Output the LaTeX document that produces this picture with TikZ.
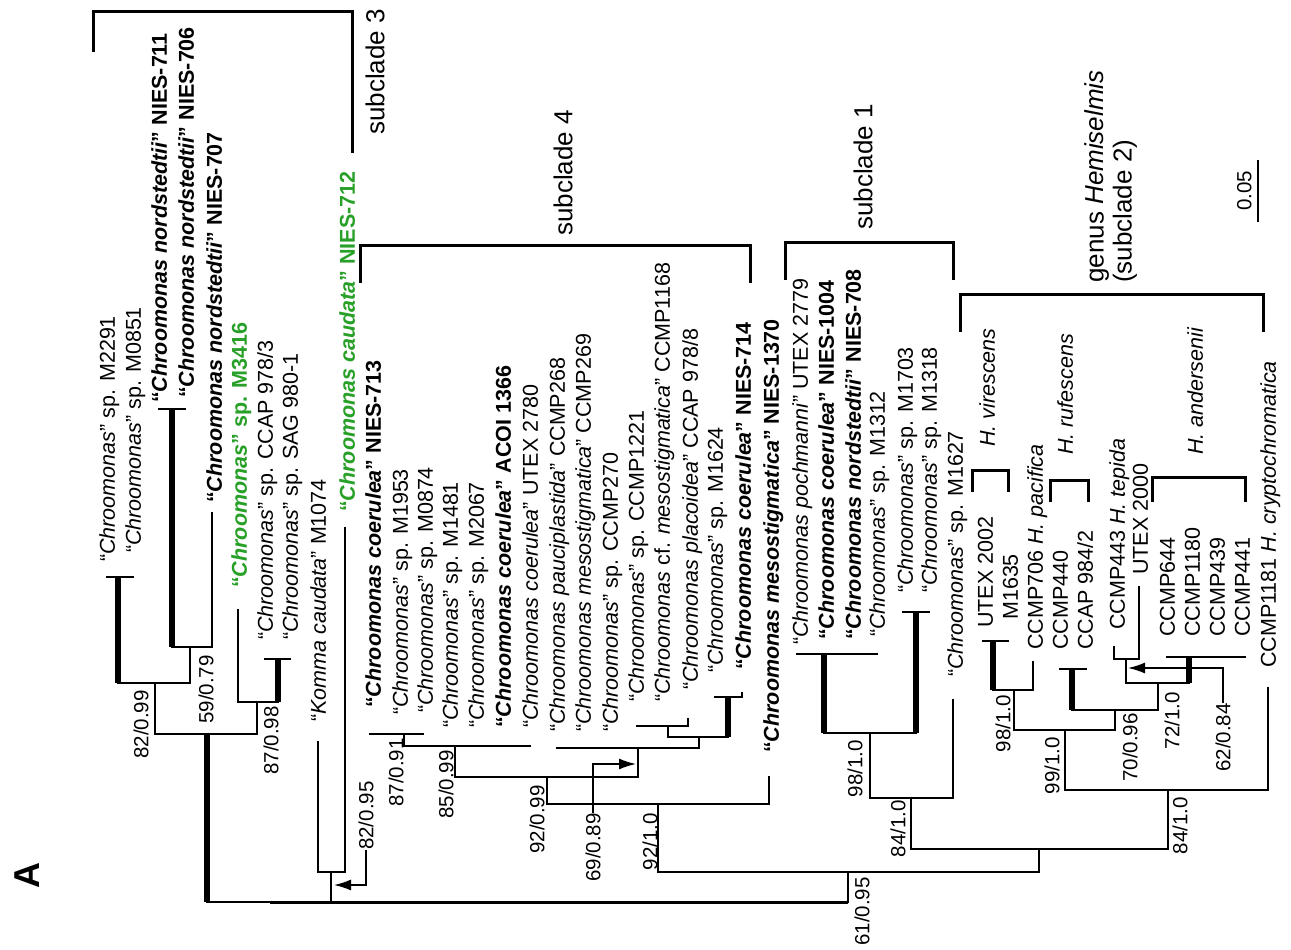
\documentclass[tikz,border=0pt]{standalone}
\usepackage{fontspec}
\setmainfont{Liberation Sans}
\usetikzlibrary{arrows.meta}
\definecolor{strgreen}{RGB}{40,160,40}
\newcommand{\tipfont}{\fontsize{21.5}{24}\selectfont}
\newcommand{\bsfont}{\fontsize{20.5}{22}\selectfont}
\newcommand{\cladefont}{\fontsize{26}{28}\selectfont}
\newcommand{\chr}[1]{“\textit{#1}”}

\begin{document}
\begin{tikzpicture}[x=1pt,y=-1pt,
				taxon/.style={rotate=90,anchor=west,inner sep=0pt,font=\tipfont,text height=15.5pt,text depth=0pt},
				bold/.style={taxon,font=\tipfont\bfseries},
				green/.style={bold,text=strgreen},
				support/.style={rotate=90,anchor=east,inner sep=0pt,font=\bsfont,text height=14.7pt,text depth=0pt},
				clade/.style={rotate=90,anchor=west,inner sep=0pt,font=\cladefont,text height=18.7pt,text depth=0pt},
				branch/.style={line width=2pt,line cap=rect},
				strong/.style={line width=6pt},
				bracket/.style={line width=3pt},
				pointer/.style={line width=1.5pt,-{Latex[length=17pt,width=11pt]}}]
				\useasboundingbox (0,0) rectangle (1291,950);

				% subclade 3
				\draw[strong] (207,734) -- (207,902);
				\draw[branch] (155,734) -- (257,734) (155,734) -- (155,683) (118,683) -- (190,683);
				\draw[strong] (118,683) -- (118,577);
				\draw[branch] (107,577) -- (133,577);
				\draw[branch] (190,683) -- (190,647) (172,647) -- (212,647) (212,647) -- (212,513);
				\draw[strong] (172,647) -- (172,409);
				\draw[branch] (159,409) -- (185,409);
				\draw[branch] (257,734) -- (257,702) (238,702) -- (278,702) (238,702) -- (238,610);
				\draw[strong] (278,702) -- (278,659);
				\draw[branch] (265,659) -- (290,659);
				\draw[branch] (331,902) -- (331,872) (318,872) -- (345,872) (318,872) -- (318,742) (345,872) -- (345,528);
				\draw[branch] (207,902) -- (270,902);
				\draw[line width=3pt] (270,902) -- (848,902);

				% subclade 4
				\draw[branch] (848,902) -- (848,872) (658,872) -- (1039,872) (658,872) -- (658,804);
				\draw[branch] (547,804) -- (769,804) (769,804) -- (769,777) (547,804) -- (547,777);
				\draw[branch] (455,777) -- (638,777) (455,777) -- (455,746) (404,746) -- (530,746);
				\draw[branch] (404,746) -- (404,734) (370,734) -- (423,734);
				\draw[branch] (638,777) -- (638,748) (557,748) -- (699,748) (699,748) -- (699,737);
				\draw[branch] (668,737) -- (728,737) (668,737) -- (668,726) (637,726) -- (688,726) (688,726) -- (688,719);
				\draw[strong] (728,737) -- (728,697);
				\draw[branch] (715,697) -- (742,697) -- (742,693);

				% subclade 1
				\draw[branch] (1039,872) -- (1039,849) (911,849) -- (1168,849) (911,849) -- (911,798);
				\draw[branch] (870,798) -- (953,798) (953,798) -- (953,700) (870,798) -- (870,733) (824,733) -- (916,733);
				\draw[strong] (824,733) -- (824,654);
				\draw[branch] (797,654) -- (877,654);
				\draw[strong] (916,733) -- (916,612);
				\draw[branch] (903,612) -- (929,612);

				% Hemiselmis
				\draw[branch] (1168,849) -- (1168,790) (1065,790) -- (1268,790) (1268,790) -- (1268,688);
				\draw[branch] (1065,790) -- (1065,730) (1014,730) -- (1115,730) (1014,730) -- (1014,690);
				\draw[branch] (993,690) -- (1033,690) (1033,690) -- (1033,662);
				\draw[strong] (993,690) -- (993,641);
				\draw[branch] (983,641) -- (1008,641);
				\draw[branch] (1115,730) -- (1115,710) (1072,710) -- (1158,710);
				\draw[strong] (1072,710) -- (1072,669);
				\draw[branch] (1060,669) -- (1086,669);
				\draw[branch] (1158,710) -- (1158,683) (1126,683) -- (1189,683) (1126,683) -- (1126,659);
				\draw[branch] (1114,659) -- (1139,659) (1114,659) -- (1114,647) (1139,659) -- (1139,587);
				\draw[strong] (1189,683) -- (1189,657);
				\draw[branch] (1167,657) -- (1245,657);

				% taxa
				\node[taxon] (tM2291) at (107,562) {\chr{Chroomonas} sp. M2291};
				\node[taxon] (tM0851) at (133,553) {\chr{Chroomonas} sp. M0851};
				\node[bold]  (tN711)  at (159,403) {\chr{Chroomonas nordstedtii} NIES-711};
				\node[bold]  (tN706)  at (186,398) {\chr{Chroomonas nordstedtii} NIES-706};
				\node[bold]  (tN707)  at (214,503) {\chr{Chroomonas nordstedtii} NIES-707};
				\node[green] (tM3416) at (239,588) {\chr{Chroomonas} sp. M3416};
				\node[taxon] (tC9783) at (265,640) {\chr{Chroomonas} sp. CCAP 978/3};
				\node[taxon] (tS9801) at (290,640) {\chr{Chroomonas} sp. SAG 980-1};
				\node[taxon] (tM1074) at (318,722) {\chr{Komma caudata} M1074};
				\node[green] (tN712)  at (347,512) {\chr{Chroomonas caudata} NIES-712};
				\node[bold]  (tN713)  at (373,708) {\chr{Chroomonas coerulea} NIES-713};
				\node[taxon] (tM1953) at (400,715) {\chr{Chroomonas} sp. M1953};
				\node[taxon] (tM0874) at (425,713) {\chr{Chroomonas} sp. M0874};
				\node[taxon] (tM1481) at (450,728) {\chr{Chroomonas} sp. M1481};
				\node[taxon] (tM2067) at (476,728) {\chr{Chroomonas} sp. M2067};
				\node[bold]  (tA1366) at (503,728) {\chr{Chroomonas coerulea} ACOI 1366};
				\node[taxon] (tU2780) at (530,728) {\chr{Chroomonas coerulea} UTEX 2780};
				\node[taxon] (tC268)  at (557,732) {\chr{Chroomonas pauciplastida} CCMP268};
				\node[taxon] (tC269)  at (583,732) {\chr{Chroomonas mesostigmatica} CCMP269};
				\node[taxon] (tC270)  at (610,732) {\chr{Chroomonas} sp. CCMP270};
				\node[taxon] (tC1221) at (636,702) {\chr{Chroomonas} sp. CCMP1221};
				\node[taxon] (tC1168) at (662,702) {“\textit{Chroomonas} cf. \textit{mesostigmatica}” CCMP1168};
				\node[taxon] (tC9788) at (690,690) {\chr{Chroomonas placoidea} CCAP 978/8};
				\node[taxon] (tM1624) at (715,673) {\chr{Chroomonas} sp. M1624};
				\node[bold]  (tN714)  at (743,670) {\chr{Chroomonas coerulea} NIES-714};
				\node[bold]  (tN1370) at (771,753) {\chr{Chroomonas mesostigmatica} NIES-1370};
				\node[taxon] (tU2779) at (800,645) {\chr{Chroomonas pochmanni} UTEX 2779};
				\node[bold]  (tN1004) at (826,640) {\chr{Chroomonas coerulea} NIES-1004};
				\node[bold]  (tN708)  at (853,640) {\chr{Chroomonas nordstedtii} NIES-708};
				\node[taxon] (tM1312) at (877,637) {\chr{Chroomonas} sp. M1312};
				\node[taxon] (tM1703) at (905,593) {\chr{Chroomonas} sp. M1703};
				\node[taxon] (tM1318) at (929,593) {\chr{Chroomonas} sp. M1318};
				\node[taxon] (tM1627) at (955,677) {\chr{Chroomonas} sp. M1627};
				\node[taxon] (tU2002) at (985,628) {UTEX 2002};
				\node[taxon] (tM1635) at (1010,620) {M1635};
				\node[taxon] (tC706)  at (1035,650) {CCMP706 \textit{H. pacifica}};
				\node[taxon] (tC440)  at (1060,650) {CCMP440};
				\node[taxon] (tC9842) at (1085,650) {CCAP 984/2};
				\node[taxon] (tC443)  at (1117,630) {CCMP443 \textit{H. tepida}};
				\node[taxon] (tU2000) at (1140,575) {UTEX 2000};
				\node[taxon] (tC644)  at (1167,637) {CCMP644};
				\node[taxon] (tC1180) at (1192,637) {CCMP1180};
				\node[taxon] (tC439)  at (1217,637) {CCMP439};
				\node[taxon] (tC441)  at (1242,637) {CCMP441};
				\node[taxon] (tC1181) at (1268,668) {CCMP1181 \textit{H. cryptochromatica}};

				% support values
				\node[support] (s8299) at (141,690) {82/0.99};
				\node[support] (s5979) at (206,655) {59/0.79};
				\node[support] (s8798) at (271,706) {87/0.98};
				\node[support] (s8791) at (396,738) {87/0.91};
				\node[support] (s8599) at (446,750) {85/0.99};
				\node[support] (s9299) at (537,785) {92/0.99};
				\node[support] (s9210) at (650,813) {92/1.0};
				\node[support] (s6195) at (862,877) {61/0.95};
				\node[support] (s8410) at (898,800) {84/1.0};
				\node[support] (s9810) at (855,740) {98/1.0};
				\node[support] (s9810h) at (1003,695) {98/1.0};
				\node[support] (s9910) at (1052,737) {99/1.0};
				\node[support] (s7096) at (1130,713) {70/0.96};
				\node[support] (s7210) at (1172,692) {72/1.0};
				\node[support] (s8410h) at (1180,797) {84/1.0};
				\node[support,anchor=west] (s8295) at (366,850) {82/0.95};
				\node[support] (s6989) at (593,813) {69/0.89};
				\node[support] (s6284) at (1223,703) {62/0.84};
				\draw[pointer] (s8295.west) |- (334,885);
				\draw[pointer] (s6989.east) |- (636,764);
				\draw[pointer] (s6284.east) |- (1128,668);

				% clade brackets
				\draw[bracket] (93,52) -- (93,12) -- (352,12) -- (352,153);
				\draw[bracket] (360,283) -- (360,245) -- (750,245) -- (750,283);
				\draw[bracket] (785,280) -- (785,242) -- (953,242) -- (953,280);
				\draw[bracket] (960,332) -- (960,294) -- (1263,294) -- (1263,332);
				\draw[bracket] (972,492) -- (972,470) -- (1008,470) -- (1008,492);
				\draw[bracket] (1050,502) -- (1050,480) -- (1088,480) -- (1088,502);
				\draw[bracket] (1152,502) -- (1152,477) -- (1245,477) -- (1245,502);
				\node[clade] (sc3) at (375,135) {subclade 3};
				\node[clade] (sc4) at (563,236) {subclade 4};
				\node[clade] (sc1) at (863,230) {subclade 1};
				\node[clade,align=left,text height=,text depth=] (sc2) at (1111,283) {genus \textit{Hemiselmis}\\(subclade 2)};
				\node[taxon] (hvir) at (987,447) {\textit{H. virescens}};
				\node[taxon] (hruf) at (1065,455) {\textit{H. rufescens}};
				\node[taxon] (hand) at (1195,455) {\textit{H. andersenii}};

				% scale bar
				\draw[branch,line cap=butt] (1258,160) -- (1258,222);
				\node[support,anchor=center] (scl) at (1244,191) {0.05};
				\node[rotate=90,inner sep=0pt,font=\fontsize{36}{38}\selectfont\bfseries] (lblA) at (27,875) {A};
			\end{tikzpicture}
\end{document}
